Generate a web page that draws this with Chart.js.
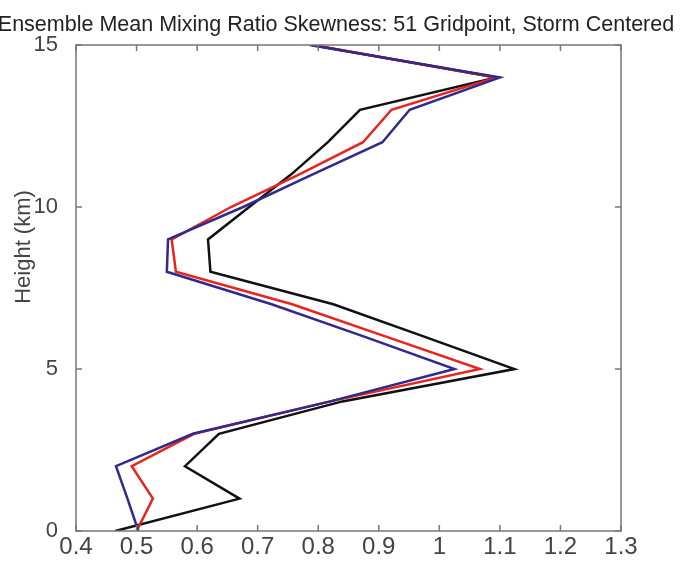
<!DOCTYPE html>
<html>
<head>
<meta charset="utf-8">
<script src="https://cdn.jsdelivr.net/npm/chart.js@4"></script>
<style>
  html, body { margin: 0; padding: 0; background: #fff; }
  #wrap { width: 684px; height: 564px; }
</style>
</head>
<body>
<div id="wrap"><canvas id="chart" width="684" height="564"></canvas></div>
<script>
// heights (km) and skewness per run
const heights = [0, 1, 2, 3, 4, 5, 6, 7, 8, 9, 10, 11, 12, 13, 14, 15];
const blackSkew = [0.465, 0.67, 0.58, 0.636, 0.84, 1.124, 0.975, 0.825, 0.622, 0.618, 0.686, 0.755, 0.816, 0.869, 1.094, 0.79];
const redSkew = [0.50, 0.527, 0.492, 0.595, 0.82, 1.067, 0.912, 0.757, 0.565, 0.558, 0.656, 0.768, 0.874, 0.921, 1.094, 0.79];
const blueSkew = [0.503, 0.485, 0.466, 0.593, 0.82, 1.025, 0.876, 0.723, 0.55, 0.552, 0.676, 0.79, 0.906, 0.951, 1.10, 0.786];
const xTicks = [0.4, 0.5, 0.6, 0.7, 0.8, 0.9, 1.0, 1.1, 1.2, 1.3];
const yTicks = [0, 5, 10, 15];
const titleText = "Ensemble Mean Mixing Ratio Skewness: 51 Gridpoint, Storm Centered";
const yTitle = "Height (km)";

const FONT = "'Liberation Sans', Arial, Helvetica, sans-serif";

function toPoints(vals) {
  return vals.map((v, i) => ({ x: v, y: heights[i] }));
}

// box, inward ticks, title and y label, matlab style
const matlabFrame = {
  id: 'matlabFrame',
  afterDraw(chart) {
    const ctx = chart.ctx;
    const a = chart.chartArea;
    const xs = chart.scales.x, ys = chart.scales.y;
    ctx.save();
    ctx.strokeStyle = '#777';
    ctx.lineWidth = 1.5;
    ctx.strokeRect(a.left, a.top, a.right - a.left, a.bottom - a.top);
    ctx.beginPath();
    xTicks.forEach(t => {
      const px = xs.getPixelForValue(t);
      ctx.moveTo(px, a.bottom); ctx.lineTo(px, a.bottom - 6);
      ctx.moveTo(px, a.top); ctx.lineTo(px, a.top + 6);
    });
    yTicks.forEach(t => {
      const py = ys.getPixelForValue(t);
      ctx.moveTo(a.left, py); ctx.lineTo(a.left + 6, py);
      ctx.moveTo(a.right, py); ctx.lineTo(a.right - 6, py);
    });
    ctx.stroke();

    ctx.fillStyle = '#222';
    ctx.font = '21.5px ' + FONT;
    ctx.textAlign = 'center';
    ctx.textBaseline = 'alphabetic';
    ctx.fillText(titleText, 336, 31);

    ctx.fillStyle = '#444';
    ctx.font = '22px ' + FONT;
    ctx.translate(24, 247);
    ctx.rotate(-Math.PI / 2);
    ctx.textBaseline = 'middle';
    ctx.fillText(yTitle, 0, 0);
    ctx.restore();
  }
};

const ctx = document.getElementById('chart').getContext('2d');
const chart = new Chart(ctx, {
  type: 'scatter',
  data: {
    datasets: [
      { label: 'blue', data: toPoints(blueSkew), borderColor: '#32298c', borderWidth: 2.5, showLine: true, pointRadius: 0 },
      { label: 'red', data: toPoints(redSkew), borderColor: '#e8241c', borderWidth: 2.5, showLine: true, pointRadius: 0 },
      { label: 'black', data: toPoints(blackSkew), borderColor: '#111', borderWidth: 2.5, showLine: true, pointRadius: 0 }
    ]
  },
  options: {
    responsive: false,
    animation: false,
    layout: { padding: { top: 45, left: 0, right: 63, bottom: 0 } },
    plugins: {
      legend: { display: false },
      tooltip: { enabled: false }
    },
    scales: {
      x: {
        type: 'linear',
        min: 0.4,
        max: 1.3,
        afterBuildTicks: s => { s.ticks = xTicks.map(v => ({ value: v })); },
        afterFit: s => { s.height = 33; },
        grid: { display: false },
        border: { display: false },
        ticks: {
          padding: -6,
          color: '#444',
          font: { family: FONT, size: 24 },
          maxRotation: 0,
          autoSkip: false,
          callback: v => String(+v.toFixed(1))
        }
      },
      y: {
        type: 'linear',
        min: 0,
        max: 15,
        afterBuildTicks: s => { s.ticks = yTicks.map(v => ({ value: v })); },
        afterFit: s => { s.width = 76; },
        grid: { display: false },
        border: { display: false },
        ticks: {
          padding: 10,
          color: '#444',
          font: { family: FONT, size: 22 },
          autoSkip: false
        }
      }
    }
  },
  plugins: [matlabFrame]
});
</script>
</body>
</html>
